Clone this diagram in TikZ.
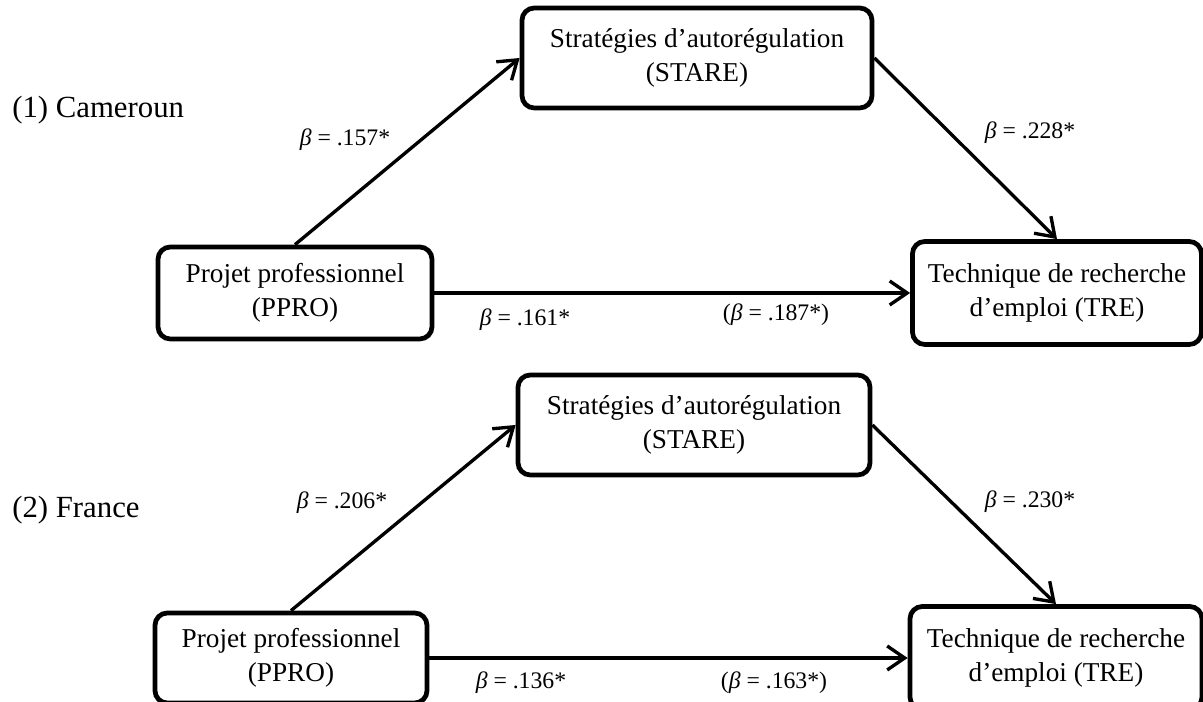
\documentclass[tikz,border=0pt]{standalone}
\usepackage{fontspec}
\setmainfont{Liberation Serif}
\usepackage{tikz}
\usetikzlibrary{arrows.meta, positioning, calc}

\begin{document}
\begin{tikzpicture}[
    boite/.style={rectangle, draw=black, line width=2.7pt, fill=white, rounded corners=7pt, align=center, inner sep=2pt, font=\fontsize{15.5}{19.3}\selectfont},
    fleche/.style={-{Straight Barb[length=3.5mm, width=4.8mm]}, line width=1.9pt, draw=black},
    coef/.style={font=\fontsize{13.5}{16}\selectfont, inner sep=1pt},
    titre/.style={anchor=west, font=\fontsize{17.5}{20}\selectfont, inner sep=0pt}
]
    \useasboundingbox (0,0) rectangle (24.06,14.04);

    % (1) Cameroun
    \node[titre] (pays1) at (0.24, 11.84) {(1) Cameroun};

    \node[boite, minimum width=7.0cm, minimum height=2.0cm] (stare1) at (13.94, 12.88) {Stratégies d’autorégulation\\(STARE)};
    \node[boite, minimum width=5.48cm, minimum height=1.84cm] (ppro1) at (5.90, 8.18) {Projet professionnel\\(PPRO)};
    \node[boite, minimum width=5.78cm, minimum height=2.06cm] (tre1) at (21.14, 8.18) {Technique de recherche\\d’emploi (TRE)};

    \draw[fleche] (ppro1.north) -- (stare1.west);
    \draw[fleche] (stare1.east) -- (tre1.north);
    \draw[fleche] (ppro1) -- (tre1);

    \node[coef] (b11) at (6.90, 11.24) {\textit{β} = .157*};
    \node[coef] (b12) at (20.60, 11.38) {\textit{β} = .228*};
    \node[coef] (b13) at (10.50, 7.64) {\textit{β} = .161*};
    \node[coef] (b14) at (15.52, 7.74) {(\textit{β} = .187*)};

    % (2) France
    \node[titre] (pays2) at (0.24, 3.84) {(2) France};

    \node[boite, minimum width=7.04cm, minimum height=2.0cm] (stare2) at (13.88, 5.54) {Stratégies d’autorégulation\\(STARE)};
    \node[boite, minimum width=5.44cm, minimum height=1.80cm] (ppro2) at (5.82, 0.88) {Projet professionnel\\(PPRO)};
    \node[boite, minimum width=5.84cm, minimum height=2.06cm] (tre2) at (21.12, 0.88) {Technique de recherche\\d’emploi (TRE)};

    \draw[fleche] (ppro2.north) -- (stare2.west);
    \draw[fleche] (stare2.east) -- (tre2.north);
    \draw[fleche] (ppro2) -- (tre2);

    \node[coef] (b21) at (6.84, 3.98) {\textit{β} = .206*};
    \node[coef] (b22) at (20.60, 4.00) {\textit{β} = .230*};
    \node[coef] (b23) at (10.42, 0.38) {\textit{β} = .136*};
    \node[coef] (b24) at (15.48, 0.38) {(\textit{β} = .163*)};
\end{tikzpicture}
\end{document}
